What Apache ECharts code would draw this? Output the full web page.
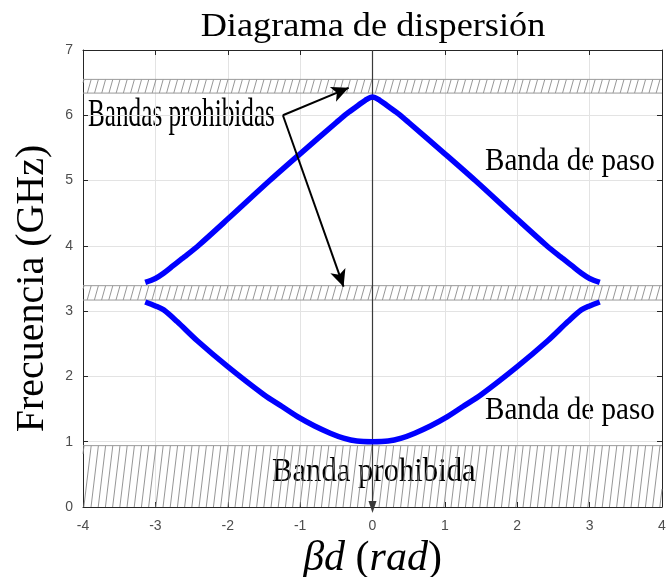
<!DOCTYPE html>
<html>
<head>
<meta charset="utf-8">
<script src="https://cdn.jsdelivr.net/npm/echarts@6/dist/echarts.min.js"></script>
<style>html,body{margin:0;padding:0;background:#fff}#c{width:666px;height:577px}</style>
</head>
<body>
<div id="c"></div>
<script>
// ---- data ----
const upperX = [-3.14, -3.0, -2.887, -2.75, -2.6, -2.4, -2.0, -1.42, -1.0, -0.5, -0.35, -0.2, -0.1, 0, 0.1, 0.2, 0.35, 0.5, 1.0, 1.42, 2.0, 2.4, 2.6, 2.75, 2.887, 3.0, 3.14];
const upperY = [3.44, 3.50, 3.58, 3.70, 3.83, 4.01, 4.41, 5.0, 5.41, 5.89, 6.03, 6.15, 6.23, 6.28, 6.23, 6.15, 6.03, 5.89, 5.41, 5.0, 4.41, 4.01, 3.83, 3.70, 3.58, 3.50, 3.44];
const lowerX = [-3.14, -3.0, -2.887, -2.7, -2.425, -2.0, -1.5, -1.25, -1.0, -0.8, -0.584, -0.4, -0.216, 0, 0.216, 0.4, 0.584, 0.8, 1.0, 1.25, 1.5, 2.0, 2.425, 2.7, 2.887, 3.0, 3.14];
const lowerY = [3.14, 3.08, 3.02, 2.84, 2.55, 2.15, 1.72, 1.54, 1.36, 1.24, 1.13, 1.055, 1.01, 1.0, 1.01, 1.055, 1.13, 1.24, 1.36, 1.54, 1.72, 2.15, 2.55, 2.84, 3.02, 3.08, 3.14];
const bandLow = [6.34, 3.17, 0];
const bandHigh = [6.55, 3.39, 0.94];
const xTicks = [-4, -3, -2, -1, 0, 1, 2, 3, 4];
const yTicks = [0, 1, 2, 3, 4, 5, 6, 7];
const arrowFrom = [-1.238, 6.0];
const arrowTo1 = [-0.33, 6.42];
const arrowTo2 = [-0.40, 3.375];

const chart = echarts.init(document.getElementById('c'), null, {renderer: 'canvas'});
const serif = '"Liberation Serif", "DejaVu Serif", serif';
const sans = '"Liberation Sans", Arial, sans-serif';

function pairs(xs, ys) { return xs.map((x, i) => [x, ys[i]]); }

function renderBand(params, api) {
  const cs = params.coordSys;
  const L = cs.x, R = cs.x + cs.width;
  const T = api.coord([0, api.value(1)])[1];
  const B = api.coord([0, api.value(0)])[1];
  const h = B - T;
  const dx = h > 30 ? 0.12 * h : 0.28 * h;
  const step = 7.2;
  const children = [];
  const ls = {stroke: '#8a8a8a', lineWidth: 0.9};
  for (let xb = L - dx + 1; xb < R; xb += step) {
    let x1 = xb, y1 = B, x2 = xb + dx, y2 = T;
    if (x1 < L) { const t = (L - xb) / dx; x1 = L; y1 = B - t * h; }
    if (x2 > R) { const t = (R - xb) / dx; x2 = R; y2 = B - t * h; }
    if (x2 <= L || x1 >= R) continue;
    children.push({type: 'line', shape: {x1, y1, x2, y2}, style: ls, silent: true});
  }
  const bs = {stroke: '#9a9a9a', lineWidth: 1};
  if (api.value(0) > 0) children.push({type: 'line', shape: {x1: L, y1: B, x2: R, y2: B}, style: bs});
  children.push({type: 'line', shape: {x1: L, y1: T, x2: R, y2: T}, style: bs});
  return {type: 'group', children};
}

const axisCol = '#262626';
const labelCol = '#4d4d4d';

const option = {
  animation: false,
  backgroundColor: '#fff',
  grid: {left: 83, right: 4, top: 50, bottom: 70, containLabel: false, outerBoundsMode: 'none'},
  xAxis: [
    {type: 'value', min: xTicks[0], max: xTicks[xTicks.length - 1], interval: 1, position: 'bottom',
     axisLine: {show: true, onZero: false, lineStyle: {color: axisCol, width: 1}},
     axisTick: {show: true, inside: true, length: 5, lineStyle: {color: axisCol}},
     axisLabel: {color: labelCol, fontSize: 14, fontFamily: sans, margin: 12},
     splitLine: {show: true, lineStyle: {color: '#e3e3e3', width: 1}},
     name: '{i|βd}{u|\u00a0(}{i|rad}{u|)}', nameLocation: 'middle', nameGap: 29,
     nameTextStyle: {rich: {
       i: {fontFamily: serif, fontStyle: 'italic', fontSize: 42, color: '#000'},
       u: {fontFamily: serif, fontSize: 42, color: '#000'}
     }}},
    {type: 'value', min: xTicks[0], max: xTicks[xTicks.length - 1], interval: 1, position: 'top',
     axisLine: {show: true, onZero: false, lineStyle: {color: axisCol, width: 1}},
     axisTick: {show: true, inside: true, length: 5, lineStyle: {color: axisCol}},
     axisLabel: {show: false}, splitLine: {show: false}}
  ],
  yAxis: [
    {type: 'value', min: yTicks[0], max: yTicks[yTicks.length - 1], interval: 1, position: 'left',
     axisLine: {show: true, onZero: false, lineStyle: {color: axisCol, width: 1}},
     axisTick: {show: true, inside: true, length: 5, lineStyle: {color: axisCol}},
     axisLabel: {color: labelCol, fontSize: 14, fontFamily: sans, margin: 10},
     splitLine: {show: true, lineStyle: {color: '#e3e3e3', width: 1}},
     name: 'Frecuencia (GHz)', nameLocation: 'middle', nameGap: 31, nameRotate: 90,
     nameTextStyle: {fontFamily: serif, fontSize: 40, color: '#000', padding: [0, 20, 0, 0]}},
    {type: 'value', min: yTicks[0], max: yTicks[yTicks.length - 1], interval: 1, position: 'right',
     axisLine: {show: true, onZero: false, lineStyle: {color: axisCol, width: 1}},
     axisTick: {show: true, inside: true, length: 5, lineStyle: {color: axisCol}},
     axisLabel: {show: false}, splitLine: {show: false}}
  ],
  graphic: [
    {type: 'text', x: 373, y: 27, scaleX: 1.1, style: {text: 'Diagrama de dispersión', font: '33px ' + serif, fill: '#000', textAlign: 'center', textVerticalAlign: 'middle'}},
    {type: 'text', x: 88, y: 115, scaleX: 0.63, style: {text: 'Bandas prohibidas', font: '40px ' + serif, fill: '#000', textAlign: 'left', textVerticalAlign: 'middle'}},
    {type: 'text', x: 485, y: 162, scaleX: 0.91, style: {text: 'Banda de paso', font: '32px ' + serif, fill: '#000', textAlign: 'left', textVerticalAlign: 'middle'}},
    {type: 'text', x: 485, y: 411, scaleX: 0.91, style: {text: 'Banda de paso', font: '32px ' + serif, fill: '#000', textAlign: 'left', textVerticalAlign: 'middle'}},
    {type: 'text', x: 272, y: 472, scaleX: 0.93, style: {text: 'Banda prohibida', font: '33px ' + serif, fill: '#000', textAlign: 'left', textVerticalAlign: 'middle'}}
  ],
  series: [
    {type: 'custom', name: 'bandas', coordinateSystem: 'cartesian2d', renderItem: renderBand,
     data: bandLow.map((v, i) => [v, bandHigh[i]]), z: 1, silent: true, clip: false},
    {type: 'line', name: 'superior', data: pairs(upperX, upperY), showSymbol: false, smooth: 0.3,
     lineStyle: {color: '#0000ff', width: 5.5}, z: 5, silent: true,
     markLine: {silent: true, symbol: ['none', 'arrow'], symbolSize: [12, 17], label: {show: false},
       lineStyle: {color: '#000', width: 2, type: 'solid'}, z: 10,
       data: [[{coord: arrowFrom}, {coord: arrowTo1}], [{coord: arrowFrom}, {coord: arrowTo2}]]}},
    {type: 'line', name: 'inferior', data: pairs(lowerX, lowerY), showSymbol: false, smooth: 0.3,
     lineStyle: {color: '#0000ff', width: 5.5}, z: 5, silent: true,
     markLine: {silent: true, symbol: ['none', 'triangle'], symbolSize: [8, 12], symbolRotate: 180, label: {show: false},
       lineStyle: {color: '#3a3a3a', width: 1.2, type: 'solid'}, z: 4,
       data: [[{coord: [0, yTicks[yTicks.length - 1]]}, {coord: [0, yTicks[0]]}]]}}
  ]
};
chart.setOption(option);
</script>
</body>
</html>
